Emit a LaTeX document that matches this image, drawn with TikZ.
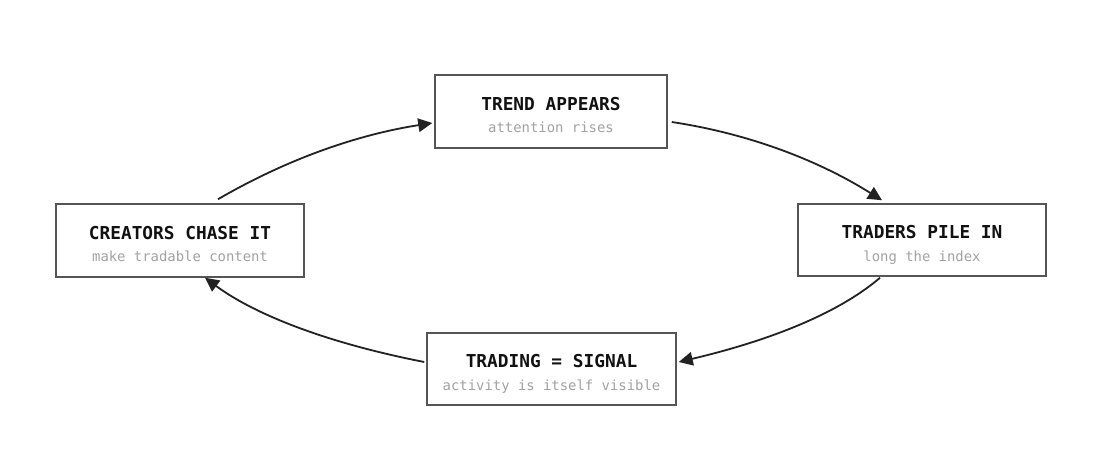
\documentclass[tikz,border=0pt]{standalone}
\usepackage{fontspec}
\setmonofont{DejaVu Sans Mono}
\usetikzlibrary{arrows.meta,calc}
\definecolor{boxline}{HTML}{555555}
\definecolor{arrowcol}{HTML}{222222}
\definecolor{titlecol}{HTML}{111111}
\definecolor{subcol}{HTML}{A2A2A2}
\tikzset{
  stagebox/.style={draw=boxline, line width=1.5pt, fill=white, inner sep=0pt},
  stagetitle/.style={anchor=base, inner sep=0pt, text=titlecol, font=\ttfamily\bfseries\fontsize{17.8}{20}\selectfont},
  stagesub/.style={anchor=base, inner sep=0pt, text=subcol, font=\ttfamily\fontsize{13.9}{16}\selectfont},
  cyclearrow/.style={draw=arrowcol, line width=1.8pt, -{Triangle[length=14pt,width=13.5pt]}}
}
\begin{document}
\begin{tikzpicture}[x=1pt,y=-1pt]
\fill[white] (0,0) rectangle (1100,464);
\useasboundingbox (0,0) rectangle (1100,464);

\node[stagebox, minimum width=232pt, minimum height=73pt] (trend) at (551,111.5) {};
\node[stagetitle] (trendT) at ($(trend.center)+(0,-1.5)$) {TREND APPEARS};
\node[stagesub] (trendS) at ($(trend.center)+(0,21)$) {attention rises};

\node[stagebox, minimum width=248pt, minimum height=73pt] (creators) at (180,240.5) {};
\node[stagetitle] (creatorsT) at ($(creators.center)+(0,-1.5)$) {CREATORS CHASE IT};
\node[stagesub] (creatorsS) at ($(creators.center)+(0,21)$) {make tradable content};

\node[stagebox, minimum width=248pt, minimum height=72pt] (traders) at (922,240) {};
\node[stagetitle] (tradersT) at ($(traders.center)+(0,-1.5)$) {TRADERS PILE IN};
\node[stagesub] (tradersS) at ($(traders.center)+(0,21)$) {long the index};

\node[stagebox, minimum width=249pt, minimum height=72pt] (trading) at (551.5,369) {};
\node[stagetitle] (tradingT) at ($(trading.center)+(0,-1.5)$) {TRADING = SIGNAL};
\node[stagesub] (tradingS) at ($(trading.center)+(0,21)$) {activity is itself visible};

\draw[cyclearrow] ($(creators.north)+(38,-4)$) .. controls +(67,-39) and +(-77,12) .. ($(trend.west)+(-2,11.5)$);
\draw[cyclearrow] ($(trend.east)+(4,10.5)$) .. controls +(73,11) and +(-67,-42) .. ($(traders.north)+(-40,-3)$);
\draw[cyclearrow] ($(traders.south)+(-42,1)$) .. controls +(-41,35) and +(93,-22) .. ($(trading.east)+(2,-7)$);
\draw[cyclearrow] ($(trading.west)+(-2,-7)$) .. controls +(-97,-19) and +(50,37) .. ($(creators.south)+(25,0)$);
\end{tikzpicture}
\end{document}
